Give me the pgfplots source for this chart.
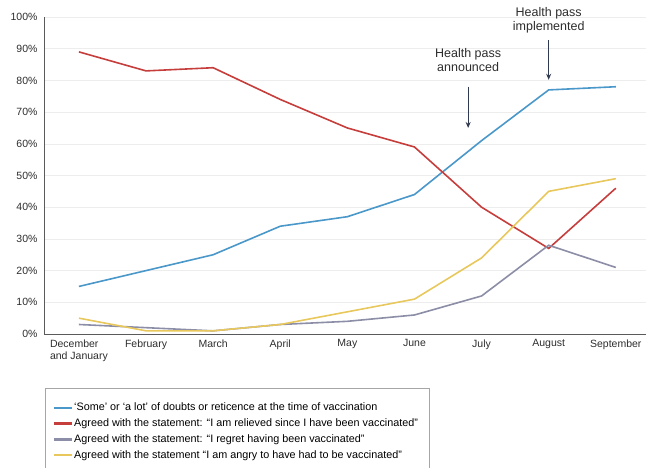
\documentclass[border=0pt]{standalone}
\usepackage{fontspec}
\setmainfont{Liberation Sans}
\usepackage{pgfplots}
\pgfplotsset{compat=1.18}
\usetikzlibrary{arrows.meta}

\definecolor{cblue}{RGB}{74,151,201}
\definecolor{cred}{RGB}{198,62,60}
\definecolor{cgrey}{RGB}{140,141,166}
\definecolor{cyellow}{RGB}{232,200,92}
\definecolor{arrowc}{RGB}{48,58,80}
\definecolor{axisc}{RGB}{90,90,90}
\definecolor{textc}{RGB}{45,45,45}

\begin{document}
\begin{tikzpicture}
\begin{axis}[
  scale only axis,
  width=602pt, height=317pt,
  xmin=-0.52, xmax=8.45,
  ymin=0, ymax=100,
  axis lines=left,
  axis line style={-, draw=axisc, line width=0.8pt},
  major tick length=0pt,
  xtick={0,...,8},
  xticklabels={{December\\and January},February,March,April,May,June,July,August,September},
  ytick={0,10,...,100},
  yticklabel={\pgfmathprintnumber{\tick}\%},
  /pgf/number format/assume math mode=true,
  tick label style={font=\fontsize{10.5}{12.5}\selectfont, text=textc},
  x tick label style={align=left, anchor=north, yshift=-2pt},
  y tick label style={xshift=-3pt},
  ymajorgrids,
  grid style={draw=black!7, line width=0.6pt},
  clip=false,
  legend style={
    at={(0.0017,-0.170)}, anchor=north west,
    draw=black!35,
    font=\fontsize{10.8}{12.5}\selectfont,
    inner xsep=9pt, inner ysep=13pt,
    row sep=2.5pt,
    cells={anchor=west},
  },
  legend cell align=left,
  legend image code/.code={\fill[#1, draw=none] (0pt,-1.2pt) rectangle (18pt,1.2pt);},
]
\addplot[color=cblue, line width=1.6pt] coordinates {
  (0,15) (1,20) (2,25) (3,34) (4,37) (5,44) (6,61) (7,77) (8,78)
};
\addlegendentry{‘Some’ or ‘a lot’ of doubts or reticence at the time of vaccination}
\addplot[color=cred, line width=1.6pt] coordinates {
  (0,89) (1,83) (2,84) (3,74) (4,65) (5,59) (6,40) (7,27) (8,46)
};
\addlegendentry{Agreed with the statement: “I am relieved since I have been vaccinated”}
\addplot[color=cgrey, line width=1.6pt] coordinates {
  (0,3) (1,2) (2,1) (3,3) (4,4) (5,6) (6,12) (7,28) (8,21)
};
\addlegendentry{Agreed with the statement: “I regret having been vaccinated”}
\addplot[color=cyellow, line width=1.6pt] coordinates {
  (0,5) (1,1) (2,1) (3,3) (4,7) (5,11) (6,24) (7,45) (8,49)
};
\addlegendentry{Agreed with the statement “I am angry to have had to be vaccinated”}

\node[align=center, text=textc, font=\fontsize{12.5}{13.5}\selectfont] at (axis cs:5.8,86.4) {Health pass\\announced};
\draw[arrowc, line width=1.1pt, -{Stealth[length=6pt,width=5pt]}] (axis cs:5.8,78) -- (axis cs:5.8,65);
\node[align=center, text=textc, font=\fontsize{12.5}{13.5}\selectfont] at (axis cs:7,99) {Health pass\\implemented};
\draw[arrowc, line width=1.1pt, -{Stealth[length=6pt,width=5pt]}] (axis cs:7,92.7) -- (axis cs:7,80.2);

\coordinate (O) at (rel axis cs:0,0);
\coordinate (T) at (rel axis cs:1,1);
\end{axis}
\pgfresetboundingbox
\path[use as bounding box] ([xshift=-44pt,yshift=-133pt]O) rectangle ([yshift=17pt]T);
\end{tikzpicture}
\end{document}
